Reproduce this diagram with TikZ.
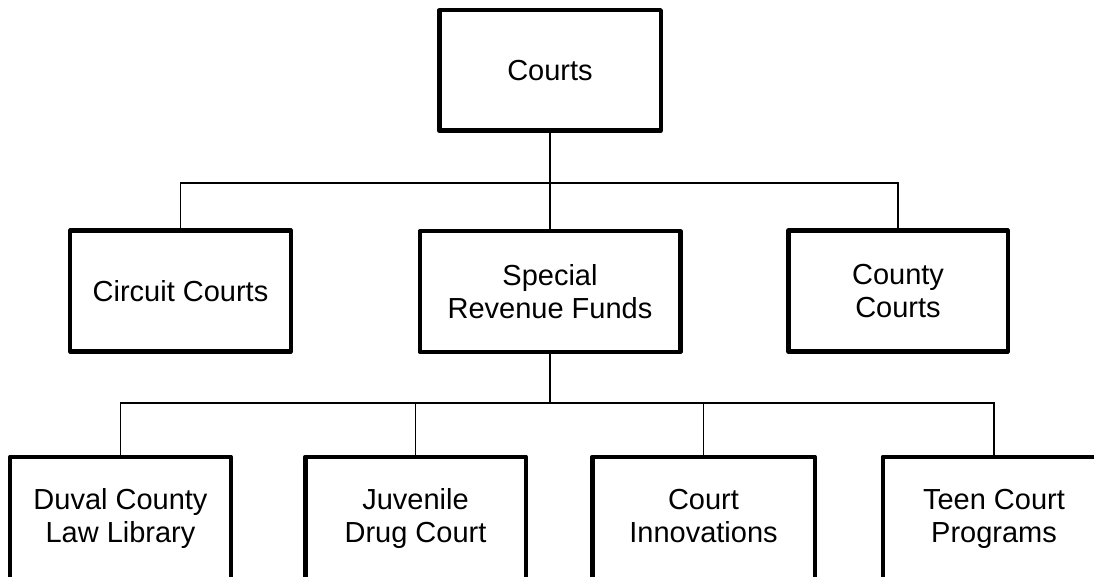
\documentclass[tikz,border=0pt]{standalone}
\usepackage{fontspec}
\setmainfont{Liberation Sans}
\begin{document}
\begin{tikzpicture}[x=1bp,y=-1bp,
  unit/.style={draw=black, line width=4.5bp, line join=round, fill=white,
    inner sep=0pt, align=center, minimum height=120.5bp,
    font=\fontsize{29bp}{33bp}\selectfont},
  lowunit/.style={unit, minimum height=123.5bp, text depth=6bp},
  trunk/.style={draw=black, line width=2.5bp},
  branch/.style={draw=black, line width=1.3bp}]
  \useasboundingbox (0,0) rectangle (1094,577);
  \clip (0,0) rectangle (1094,577);

  % junction bars
  \coordinate (upper) at (550,183);
  \coordinate (lower) at (549,403);

  % top level
  \node[unit, minimum width=221.5bp] (courts) at (550,70.5) {Courts};

  % second level
  \node[unit, minimum width=220.5bp] (circuit) at (180.5,291) {Circuit Courts};
  \node[unit, minimum width=260.5bp] (special) at (550,291.5) {Special\\Revenue Funds};
  \node[unit, minimum width=219.5bp] (county)  at (898,291) {County\\Courts};

  % third level (runs past the lower edge)
  \node[lowunit, minimum width=220.5bp] (duval)    at (120.5,518.5) {Duval County\\Law Library};
  \node[lowunit, minimum width=220.5bp] (juvenile) at (415.5,518.5) {Juvenile\\Drug Court};
  \node[lowunit, minimum width=222.5bp] (innov)    at (703.5,518.5) {Court\\Innovations};
  \node[lowunit, minimum width=222.5bp] (teen)     at (994,518.5) {Teen Court\\Programs};

  % connectors
  \draw[trunk] (courts.south) -- (upper);
  \draw[branch] (circuit.north) |- (upper);
  \draw[branch] (county.north) |- (upper);
  \draw[branch] (special.north) -- (upper);

  \draw[trunk] (special.south) -- (special.south |- lower);
  \draw[branch] (duval.north) |- (lower);
  \draw[branch] (juvenile.north) |- (lower);
  \draw[branch] (innov.north) |- (lower);
  \draw[branch] (teen.north) |- (lower);
\end{tikzpicture}
\end{document}
